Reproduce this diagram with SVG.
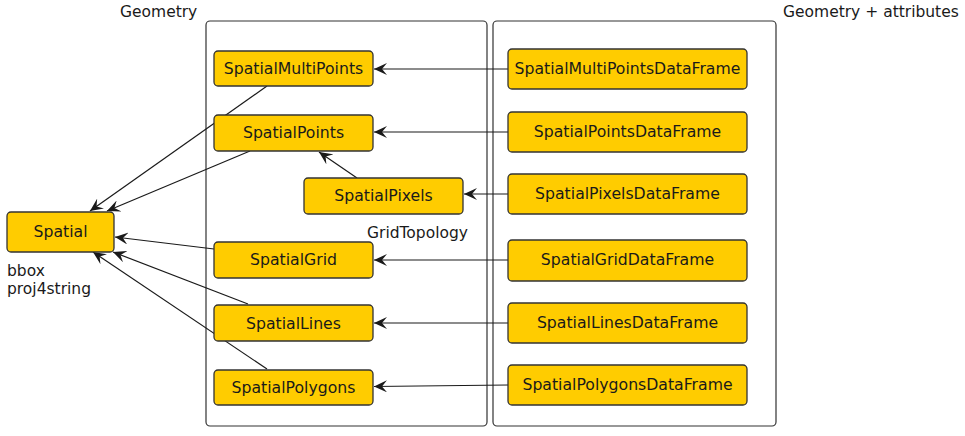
<svg xmlns="http://www.w3.org/2000/svg" width="965" height="436" viewBox="0 0 965 436">
<style>
.bg{fill:#ffffff}
.cluster{fill:none;stroke:#333333;stroke-width:1.2}
.node rect{fill:#ffcc00;stroke:#333333;stroke-width:1.3}
text{font-family:"DejaVu Sans",sans-serif;font-size:15.5px;fill:#1a1a1a}
.node text{text-anchor:middle;font-size:15.7px}
.edge{stroke:#1a1a1a;stroke-width:1.2;fill:none;marker-end:url(#ah)}
</style>
<defs>
<marker id="ah" markerUnits="userSpaceOnUse" markerWidth="14" markerHeight="12" refX="13" refY="6" orient="auto">
<path d="M0,0 L13,6 L0,12 L5,6 z" fill="#1a1a1a"/>
</marker>
</defs>
<rect class="bg" x="0" y="0" width="965" height="436"/>
<g id="clusters">
<rect class="cluster" x="206" y="21" width="281" height="405" rx="4"/>
<rect class="cluster" x="493" y="21" width="283" height="405" rx="4"/>
</g>
<g id="labels">
<text x="120" y="17">Geometry</text>
<text x="783" y="17">Geometry + attributes</text>
<text x="367" y="238">GridTopology</text>
<text x="7" y="276">bbox</text>
<text x="7" y="294">proj4string</text>
</g>
<g id="connectors">
<line class="edge" x1="508" y1="69" x2="374" y2="69"/>
<line class="edge" x1="508" y1="132" x2="374" y2="132"/>
<line class="edge" x1="508" y1="194" x2="464" y2="194"/>
<line class="edge" x1="508" y1="260" x2="374" y2="260"/>
<line class="edge" x1="508" y1="323" x2="374" y2="323"/>
<line class="edge" x1="508" y1="385" x2="374" y2="386.5"/>
<line class="edge" x1="357" y1="178" x2="319" y2="152"/>
<line class="edge" x1="267" y1="86" x2="90" y2="211"/>
<line class="edge" x1="250" y1="151" x2="107" y2="211"/>
<line class="edge" x1="214" y1="249" x2="115" y2="237"/>
<line class="edge" x1="248" y1="304" x2="113" y2="252"/>
<line class="edge" x1="267" y1="369" x2="93" y2="252"/>
</g>
<g id="Spatial" class="node"><rect x="7" y="212" width="107" height="40" rx="4"/><text x="60.5" y="237">Spatial</text></g>
<g id="SpatialMultiPoints" class="node"><rect x="214" y="51" width="159" height="35" rx="4"/><text x="293.5" y="74">SpatialMultiPoints</text></g>
<g id="SpatialPoints" class="node"><rect x="214" y="115" width="159" height="36" rx="4"/><text x="293.5" y="138">SpatialPoints</text></g>
<g id="SpatialPixels" class="node"><rect x="304" y="178" width="159" height="36" rx="4"/><text x="383.5" y="201">SpatialPixels</text></g>
<g id="SpatialGrid" class="node"><rect x="214" y="242" width="159" height="36" rx="4"/><text x="293.5" y="265">SpatialGrid</text></g>
<g id="SpatialLines" class="node"><rect x="214" y="305" width="159" height="36" rx="4"/><text x="293.5" y="329">SpatialLines</text></g>
<g id="SpatialPolygons" class="node"><rect x="214" y="370" width="159" height="35" rx="4"/><text x="293.5" y="393">SpatialPolygons</text></g>
<g id="SpatialMultiPointsDataFrame" class="node"><rect x="508" y="49" width="239" height="40" rx="4"/><text x="627.5" y="74">SpatialMultiPointsDataFrame</text></g>
<g id="SpatialPointsDataFrame" class="node"><rect x="508" y="112" width="239" height="40" rx="4"/><text x="627.5" y="137">SpatialPointsDataFrame</text></g>
<g id="SpatialPixelsDataFrame" class="node"><rect x="508" y="174" width="239" height="40" rx="4"/><text x="627.5" y="199">SpatialPixelsDataFrame</text></g>
<g id="SpatialGridDataFrame" class="node"><rect x="508" y="240" width="239" height="41" rx="4"/><text x="627.5" y="265">SpatialGridDataFrame</text></g>
<g id="SpatialLinesDataFrame" class="node"><rect x="508" y="303" width="239" height="40" rx="4"/><text x="627.5" y="328">SpatialLinesDataFrame</text></g>
<g id="SpatialPolygonsDataFrame" class="node"><rect x="508" y="365" width="239" height="40" rx="4"/><text x="627.5" y="390">SpatialPolygonsDataFrame</text></g>
</svg>
